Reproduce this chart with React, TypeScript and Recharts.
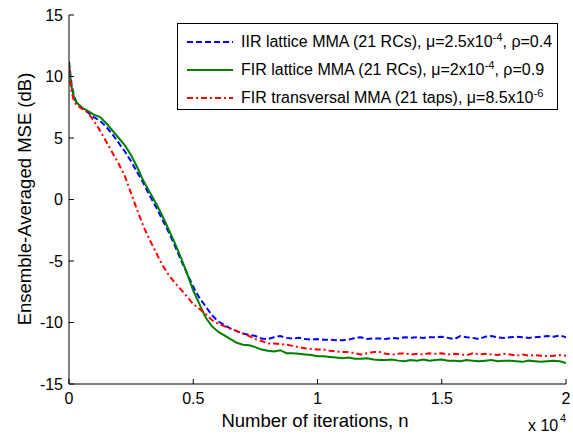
import React from 'react';
import { LineChart, Line, XAxis, YAxis, Legend, Label } from 'recharts';

const N_ITER = [
  0, 0.005, 0.01, 0.02, 0.03, 0.05, 0.075,
  0.1, 0.125, 0.15, 0.175, 0.2, 0.225, 0.25, 0.275, 0.3, 0.325,
  0.35, 0.375, 0.4, 0.425, 0.45, 0.475, 0.5, 0.525, 0.55, 0.575,
  0.6, 0.625, 0.65, 0.675, 0.7, 0.725, 0.75, 0.775, 0.8, 0.825,
  0.85, 0.875, 0.9, 0.925, 0.95, 0.975, 1.0, 1.025, 1.05, 1.075,
  1.1, 1.125, 1.15, 1.175, 1.2, 1.225, 1.25, 1.275, 1.3, 1.325,
  1.35, 1.375, 1.4, 1.425, 1.45, 1.475, 1.5, 1.525, 1.55, 1.575,
  1.6, 1.625, 1.65, 1.675, 1.7, 1.725, 1.75, 1.775, 1.8, 1.825,
  1.85, 1.875, 1.9, 1.925, 1.95, 1.975, 2.0,
];

const MSE_IIR_LATTICE = [
  11.2, 10.3, 9.4, 8.4, 7.9, 7.5, 7.1,
  6.7, 6.4, 5.9, 5.3, 4.6, 3.9, 3.1, 2.2, 1.3, 0.3,
  -0.6, -1.6, -2.6, -3.7, -4.9, -6.0, -7.1, -8.0, -8.7, -9.4,
  -9.9, -10.2, -10.5, -10.7, -10.9, -11.0, -11.1, -11.3, -11.35, -11.2,
  -11.1, -11.25, -11.3, -11.25, -11.35, -11.4, -11.35, -11.4, -11.4, -11.45,
  -11.45, -11.4, -11.25, -11.2, -11.35, -11.3, -11.3, -11.35, -11.25, -11.3,
  -11.2, -11.25, -11.2, -11.25, -11.2, -11.2, -11.15, -11.25, -11.35, -11.1,
  -11.2, -11.25, -11.35, -11.15, -11.1, -11.2, -11.25, -11.2, -11.15, -11.2,
  -11.25, -11.2, -11.15, -11.1, -11.15, -11.05, -11.2,
];

const MSE_FIR_LATTICE = [
  11.0, 10.0, 9.2, 8.3, 7.9, 7.5, 7.2,
  6.9, 6.7, 6.2, 5.6, 5.0, 4.4, 3.6, 2.6, 1.5, 0.6,
  -0.3, -1.3, -2.4, -3.5, -4.7, -6.0, -7.4, -8.5, -9.6, -10.3,
  -10.75, -11.05, -11.35, -11.65, -11.8, -11.85, -12.0, -12.2, -12.3, -12.35,
  -12.25, -12.5, -12.5, -12.55, -12.6, -12.65, -12.75, -12.75, -12.8, -12.85,
  -12.9, -12.85, -12.95, -12.95, -12.9, -13.0, -13.05, -13.05, -13.0, -13.1,
  -13.15, -13.05, -13.1, -13.0, -13.1, -13.05, -13.0, -13.1, -13.1, -13.15,
  -13.05, -13.1, -13.15, -13.1, -13.05, -13.15, -13.1, -13.1, -13.15, -13.2,
  -13.1, -13.15, -13.2, -13.15, -13.1, -13.15, -13.3,
];

const MSE_FIR_TRANSVERSAL = [
  10.8, 9.6, 8.8, 8.0, 7.7, 7.4, 7.1,
  6.4, 5.6, 4.7, 3.8, 2.9, 1.9, 0.5, -0.9, -2.2, -3.3,
  -4.3, -5.3, -6.1, -6.75, -7.3, -7.9, -8.5, -8.9, -9.3, -9.8,
  -10.1, -10.3, -10.5, -10.7, -10.9, -11.1, -11.35, -11.5, -11.7, -11.7,
  -11.75, -11.8, -11.9, -12.0, -12.1, -12.15, -12.2, -12.2, -12.3, -12.35,
  -12.4, -12.4, -12.5, -12.6, -12.5, -12.4, -12.4, -12.55, -12.6, -12.55,
  -12.5, -12.6, -12.55, -12.6, -12.5, -12.55, -12.5, -12.6, -12.55, -12.6,
  -12.65, -12.5, -12.6, -12.55, -12.6, -12.65, -12.55, -12.6, -12.7, -12.6,
  -12.7, -12.65, -12.7, -12.75, -12.7, -12.65, -12.7,
];

const X_TICKS = [0, 0.5, 1, 1.5, 2];
const Y_TICKS = [-15, -10, -5, 0, 5, 10, 15];

const SERIES = [
  { key: 'iir', name: 'IIR lattice MMA (21 RCs), μ=2.5x10', sup: '-4', tail: ', ρ=0.4', color: '#0000ff', dash: '6 3' },
  { key: 'firl', name: 'FIR lattice MMA (21 RCs), μ=2x10', sup: '-4', tail: ', ρ=0.9', color: '#008000', dash: undefined },
  { key: 'firt', name: 'FIR transversal MMA (21 taps), μ=8.5x10', sup: '-6', tail: '', color: '#ff0000', dash: '6 3 2 3' },
];

const data = N_ITER.map((n, i) => ({
  n,
  iir: MSE_IIR_LATTICE[i],
  firl: MSE_FIR_LATTICE[i],
  firt: MSE_FIR_TRANSVERSAL[i],
}));

const FONT = '"Liberation Sans", Arial, Helvetica, sans-serif';
const TICK = 5;

const BottomTick = (p: any) => (
  <g>
    <line x1={p.x} x2={p.x} y1={p.y} y2={p.y - TICK} stroke="#000" strokeWidth={1} />
    <text x={p.x} y={p.y + 19.5} textAnchor="middle" fontSize={16} fontFamily={FONT} fill="#000">
      {p.payload.value}
    </text>
  </g>
);
const TopTick = (p: any) => (
  <line x1={p.x} x2={p.x} y1={p.y} y2={p.y + TICK} stroke="#000" strokeWidth={1} />
);
const LeftTick = (p: any) => (
  <g>
    <line x1={p.x} x2={p.x + TICK} y1={p.y} y2={p.y} stroke="#000" strokeWidth={1} />
    <text x={p.x - 6} y={p.y + 5.5} textAnchor="end" fontSize={16} fontFamily={FONT} fill="#000">
      {p.payload.value}
    </text>
  </g>
);
const RightTick = (p: any) => (
  <line x1={p.x} x2={p.x - TICK} y1={p.y} y2={p.y} stroke="#000" strokeWidth={1} />
);

const LegendBox = () => (
  <div
    style={{
      width: 381,
      height: 87,
      boxSizing: 'border-box',
      border: '1px solid #000',
      background: '#fff',
      paddingTop: 4,
      fontFamily: FONT,
      fontSize: 16,
      color: '#000',
    }}
  >
    {SERIES.map((s) => (
      <div key={s.key} style={{ height: 28, display: 'flex', alignItems: 'center', whiteSpace: 'nowrap' }}>
        <svg width={63} height={10} style={{ flex: 'none' }}>
          <line x1={9} x2={55} y1={5} y2={5} stroke={s.color} strokeWidth={2} strokeDasharray={s.dash} />
        </svg>
        <span>
          {s.name}
          <sup style={{ fontSize: '0.7em', lineHeight: 0 }}>{s.sup}</sup>
          {s.tail}
        </span>
      </div>
    ))}
  </div>
);

export default function App() {
  return (
    <div style={{ position: 'absolute', left: 0, top: 0, width: 573, height: 435, background: '#fff' }}>
      <LineChart width={573} height={435} data={data} margin={{ top: 15, right: 7, bottom: 0, left: 0 }}>
        <XAxis
          dataKey="n"
          type="number"
          domain={[0, 2]}
          ticks={X_TICKS}
          allowDataOverflow
          height={51}
          tickSize={0}
          tickMargin={0}
          tickLine={false}
          axisLine={{ stroke: '#000', strokeWidth: 1 }}
          tick={BottomTick}
          interval={0}
        >
          <Label
            content={() => (
              <g fontFamily={FONT} fill="#000">
                <text x={315} y={427} textAnchor="middle" fontSize={18.5}>
                  Number of iterations, n
                </text>
                <text x={528} y={431} fontSize={16}>
                  x 10
                </text>
                <text x={560} y={422} fontSize={11}>
                  4
                </text>
              </g>
            )}
          />
        </XAxis>
        <XAxis
          xAxisId="top"
          orientation="top"
          dataKey="n"
          type="number"
          domain={[0, 2]}
          ticks={X_TICKS}
          allowDataOverflow
          height={0}
          tickSize={0}
          tickMargin={0}
          tickLine={false}
          axisLine={{ stroke: '#000', strokeWidth: 1 }}
          tick={TopTick}
          interval={0}
        />
        <YAxis
          type="number"
          domain={[-15, 15]}
          ticks={Y_TICKS}
          allowDataOverflow
          width={69}
          tickSize={0}
          tickMargin={0}
          tickLine={false}
          axisLine={{ stroke: '#000', strokeWidth: 1 }}
          tick={LeftTick}
          interval={0}
        >
          <Label
            content={() => (
              <text
                x={31}
                y={199}
                transform="rotate(-90 31 199)"
                textAnchor="middle"
                fontSize={18.5}
                fontFamily={FONT}
                fill="#000"
              >
                Ensemble-Averaged MSE (dB)
              </text>
            )}
          />
        </YAxis>
        <YAxis
          yAxisId="right"
          orientation="right"
          type="number"
          domain={[-15, 15]}
          ticks={Y_TICKS}
          allowDataOverflow
          width={0}
          tickSize={0}
          tickMargin={0}
          tickLine={false}
          axisLine={{ stroke: '#000', strokeWidth: 1 }}
          tick={RightTick}
          interval={0}
        />
        <Legend
          content={() => <LegendBox />}
          layout="horizontal"
          verticalAlign="middle"
          align="center"
          wrapperStyle={{ left: 177, top: 23, width: 381, height: 87 }}
        />
        {SERIES.map((s) => (
          <Line
            key={s.key}
            dataKey={s.key}
            name={s.name}
            type="linear"
            stroke={s.color}
            strokeWidth={2}
            strokeDasharray={s.dash}
            dot={false}
            activeDot={false}
            isAnimationActive={false}
          />
        ))}
      </LineChart>
    </div>
  );
}
